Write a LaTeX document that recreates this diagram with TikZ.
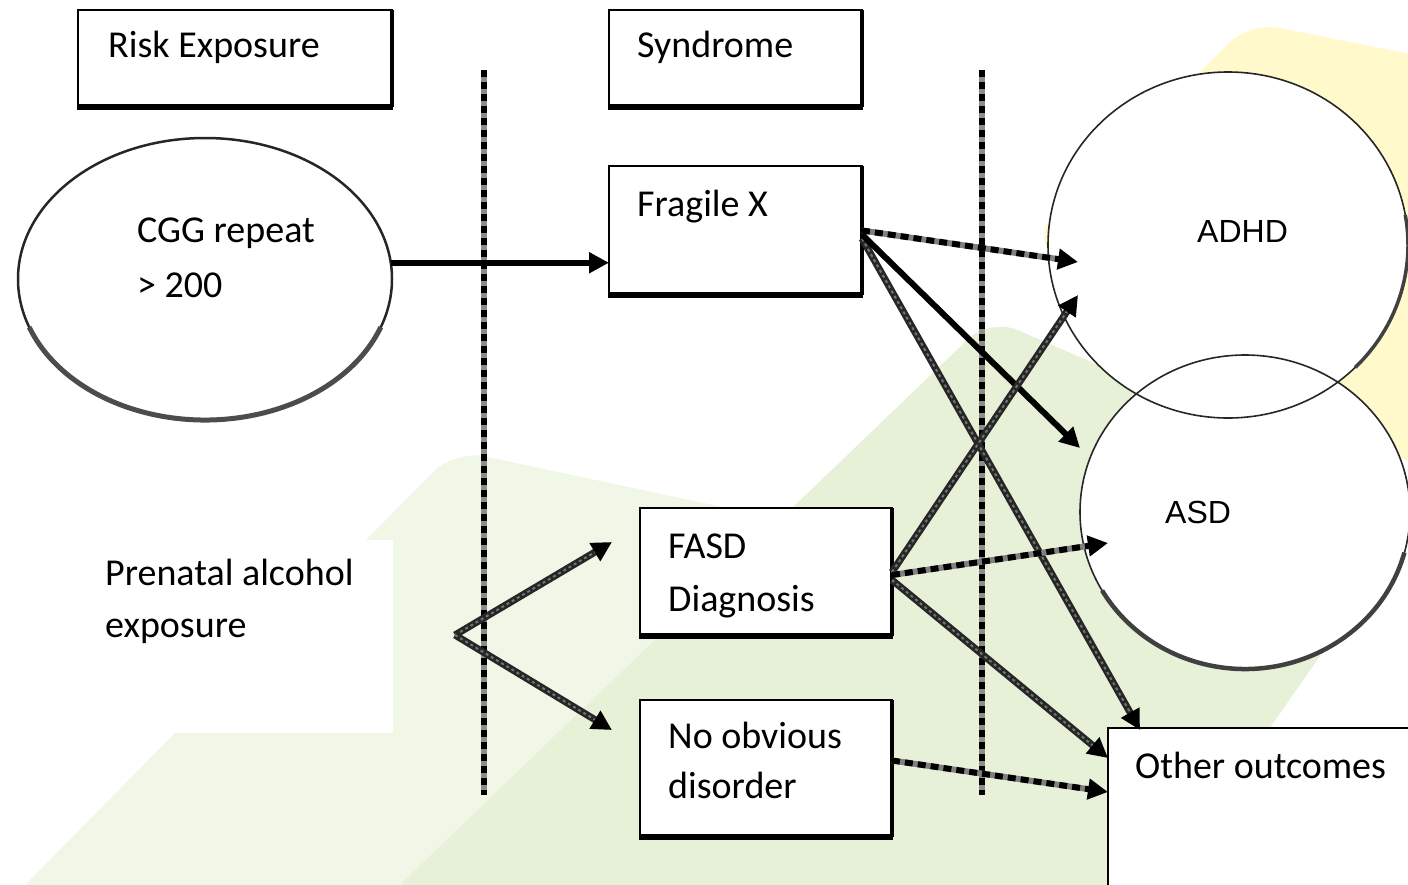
\documentclass[tikz,border=0pt]{standalone}
\usepackage{fontspec}
\setmainfont{Carlito}
\newfontfamily\arialf{Liberation Sans}
\usetikzlibrary{arrows.meta,calc,shapes.geometric}
\definecolor{bgyellow}{HTML}{FFF9CC}
\definecolor{bglight}{HTML}{F1F7E7}
\definecolor{bgdark}{HTML}{E7F1D8}
\begin{document}
\begin{tikzpicture}[x=1pt,y=-1pt,
  box/.style={draw=black, line width=2, fill=white, inner sep=0, outer sep=0, anchor=north west},
  oval/.style={ellipse, inner sep=0, outer sep=0, fill=white},
  lbl/.style={anchor=base west, inner sep=0, font=\fontsize{38}{44}\selectfont},
  lbla/.style={anchor=base west, inner sep=0, font=\arialf\fontsize{32}{38}\selectfont},
  sepline/.style={draw=black!45, line width=6, postaction={draw=black, dash pattern=on 7pt off 5pt}},
  tip/.style={-{Triangle[length=20pt,width=20pt,color=black]}},
  solidcon/.style={draw=black, line width=6, tip},
  dashcon/.style={draw=black!50, line width=6, tip, postaction={draw=black, -, dash pattern=on 8pt off 5pt, shorten >=18pt}},
  hatchcon/.style={draw=black!85, line width=7, tip, postaction={draw=black!55, -, line width=2, dash pattern=on 3pt off 3pt, shorten >=20pt}},
]
\useasboundingbox (0,0) rectangle (1408,884);
\clip (0,0) rectangle (1408,884);

% background shapes
\fill[bgyellow, rounded corners=30] (1030,240) -- (1250,22) -- (1440,60) -- (1440,480) -- cycle;
\fill[bglight, rounded corners=30] (10,900) -- (455,450) -- (760,515) -- (700,900) -- cycle;
\fill[bgdark, rounded corners=30] (384,900) -- (990,318) -- (1340,470) -- (1345,620) -- (1150,900) -- cycle;
\fill[white] (80,540) rectangle (393,733);

% separators
\coordinate (s1a) at (484,70); \coordinate (s1b) at (484,795);
\coordinate (s2a) at (982,70); \coordinate (s2b) at (982,795);
\draw[sepline] (s1a) -- (s1b);
\draw[sepline] (s2a) -- (s2b);

% ovals
\node[oval, draw=black!85, line width=2.5, minimum width=374, minimum height=282] (cgg) at (205,279) {};
\draw[line width=5, black!70] (cgg.center) ++(20:187 and 141) arc[start angle=20, end angle=160, x radius=187, y radius=141];
\node[oval, minimum width=360, minimum height=346] (adhd) at (1228,245) {};
\node[oval, minimum width=330, minimum height=314] (asd) at (1245,512) {};
\draw[line width=1.6, black!85] (adhd.center) ellipse [x radius=180, y radius=173];
\draw[line width=1.6, black!85] (asd.center) ellipse [x radius=165, y radius=157];
\draw[line width=3.5, black!75] (adhd.center) ++(-10:180 and 173) arc[start angle=-10, end angle=45, x radius=180, y radius=173];
\draw[line width=4.5, black!75] (asd.center) ++(15:165 and 157) arc[start angle=15, end angle=150, x radius=165, y radius=157];

% boxes
\node[box, minimum width=314, minimum height=97] (risk) at (78,10) {};
\node[box, minimum width=253, minimum height=97] (synd) at (609,10) {};
\node[box, minimum width=253, minimum height=129] (fragx) at (609,166) {};
\node[box, minimum width=252, minimum height=128] (fasd) at (640,508) {};
\node[box, minimum width=252, minimum height=137] (noobv) at (640,700) {};
\foreach \b in {risk,synd,fragx,fasd,noobv}{
  \draw[line width=6] ([xshift=-1pt]\b.south west) -- ([xshift=1pt]\b.south east);
  \draw[line width=3.5] (\b.north east) -- (\b.south east);
}
\node[box, minimum width=330, minimum height=180] (other) at (1108,728) {};

% connector end points
\coordinate (eA1) at ($(adhd.center)+(-150,17)$);
\coordinate (eA2) at ($(adhd.center)+(-150,50)$);
\coordinate (eS1) at ($(asd.center)+(-165,-64)$);
\coordinate (eS2) at ($(asd.center)+(-137,31)$);
\coordinate (eO1) at ($(other.north west)+(32,2)$);
\coordinate (eO2) at ($(other.north west)+(0,30)$);
\coordinate (eO3) at ($(other.north west)+(0,64)$);
\coordinate (br) at (455,635);
\coordinate (eF) at ($(fasd.west)+(-28,-30)$);
\coordinate (eN) at ($(noobv.north west)+(-28,30)$);

% connectors
\draw[solidcon] (cgg.5) -- (cgg.5 -| fragx.west);
\draw[hatchcon] ($(fragx.east)+(0,8)$) -- (eO1);
\draw[dashcon] (fragx.east) -- (eA1);
\draw[solidcon] ($(fragx.east)+(0,4)$) -- (eS1);
\draw[hatchcon] (fasd.east) -- (eA2);
\draw[dashcon] ($(fasd.east)+(0,3)$) -- (eS2);
\draw[hatchcon] ($(fasd.east)+(0,8)$) -- (eO2);
\draw[dashcon] ($(noobv.east)+(0,-8)$) -- (eO3);
\draw[hatchcon] (br) -- (eF);
\draw[hatchcon] (br) -- (eN);

% labels
\node[lbl] (tRisk) at (108,57) {Risk Exposure};
\node[lbl] (tSyn) at (637,57) {Syndrome};
\node[lbl] (tCGG) at (137,242) {CGG repeat};
\node[lbl] (t200) at (137,297) {> 200};
\node[lbl] (tFx) at (637,216) {Fragile X};
\node[lbla] (tADHD) at (1197,242) {ADHD};
\node[lbla] (tASD) at (1165,523) {ASD};
\node[lbl] (tFASD) at (668,558) {FASD};
\node[lbl] (tDiag) at (668,611) {Diagnosis};
\node[lbl] (tPre1) at (105,585) {Prenatal alcohol};
\node[lbl] (tPre2) at (105,637) {exposure};
\node[lbl] (tNo1) at (668,748) {No obvious};
\node[lbl] (tNo2) at (668,798) {disorder};
\node[lbl] (tOther) at (1135,778) {Other outcomes};
\end{tikzpicture}
\end{document}
